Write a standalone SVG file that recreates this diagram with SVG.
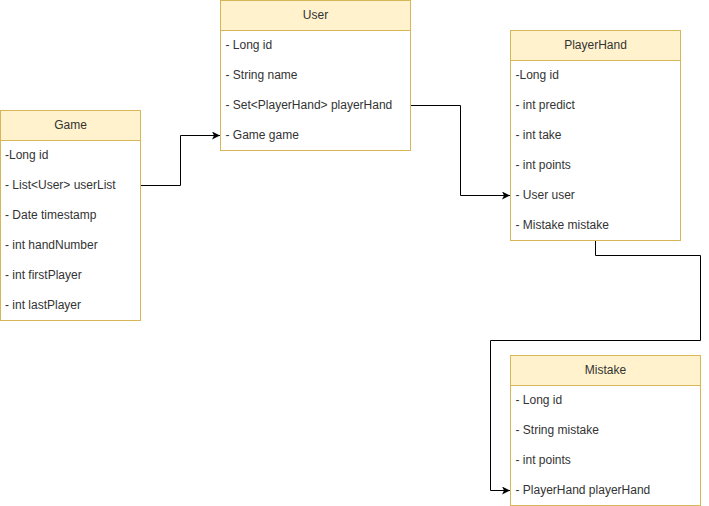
<svg xmlns="http://www.w3.org/2000/svg" width="709" height="506" viewBox="0 0 709 506">
<style>
.hdr{fill:#fff2cc;stroke:#d6b656;stroke-width:1}
.body{fill:#ffffff;stroke:#d6b656;stroke-width:1}
.t{font-family:"Liberation Sans",Arial,Helvetica,sans-serif;font-size:12px;fill:#333333}
.c{text-anchor:middle}
.edge{fill:none;stroke:#000000;stroke-width:1}
</style>
<defs>
<marker id="arr" markerUnits="userSpaceOnUse" markerWidth="10" markerHeight="10" refX="8" refY="4" orient="auto">
<path d="M0,0 L8,4 L0,8 L2,4 Z" fill="#000"/>
</marker>
</defs>
<rect width="709" height="506" fill="#ffffff"/>
<g id="connectors">
<path class="edge" d="M140.5,185.5 H180.5 V135.5 H220" marker-end="url(#arr)"/>
<path class="edge" d="M410.5,105.5 H460.5 V195.5 H510" marker-end="url(#arr)"/>
<path class="edge" d="M595.5,240.5 V255.5 H700.5 V340.5 H490.5 V490.5 H510" marker-end="url(#arr)"/>
</g>
<g id="Game">
<rect class="body" x="0.5" y="110.5" width="140" height="210"/>
<rect class="hdr" x="0.5" y="110.5" width="140" height="30"/>
<text class="t c" x="70.5" y="128.5">Game</text>
<text class="t" x="5" y="158.5">-Long id</text>
<text class="t" x="5" y="188.5">- List&lt;User&gt; userList</text>
<text class="t" x="5" y="218.5">- Date timestamp</text>
<text class="t" x="5" y="248.5">- int handNumber</text>
<text class="t" x="5" y="278.5">- int firstPlayer</text>
<text class="t" x="5" y="308.5">- int lastPlayer</text>
</g>
<g id="User">
<rect class="body" x="220.5" y="0.5" width="190" height="150"/>
<rect class="hdr" x="220.5" y="0.5" width="190" height="30"/>
<text class="t c" x="315.5" y="18.5">User</text>
<text class="t" x="225.5" y="48.5">- Long id</text>
<text class="t" x="225.5" y="78.5">- String name</text>
<text class="t" x="225.5" y="108.5">- Set&lt;PlayerHand&gt; playerHand</text>
<text class="t" x="225.5" y="138.5">- Game game</text>
</g>
<g id="PlayerHand">
<rect class="body" x="510.5" y="30.5" width="170" height="210"/>
<rect class="hdr" x="510.5" y="30.5" width="170" height="30"/>
<text class="t c" x="595.5" y="48.5">PlayerHand</text>
<text class="t" x="515.5" y="78.5">-Long id</text>
<text class="t" x="515.5" y="108.5">- int predict</text>
<text class="t" x="515.5" y="138.5">- int take</text>
<text class="t" x="515.5" y="168.5">- int points</text>
<text class="t" x="515.5" y="198.5">- User user</text>
<text class="t" x="515.5" y="228.5">- Mistake mistake</text>
</g>
<g id="Mistake">
<rect class="body" x="510.5" y="355.5" width="190" height="150"/>
<rect class="hdr" x="510.5" y="355.5" width="190" height="30"/>
<text class="t c" x="605.5" y="373.5">Mistake</text>
<text class="t" x="515.5" y="403.5">- Long id</text>
<text class="t" x="515.5" y="433.5">- String mistake</text>
<text class="t" x="515.5" y="463.5">- int points</text>
<text class="t" x="515.5" y="493.5">- PlayerHand playerHand</text>
</g>
</svg>
